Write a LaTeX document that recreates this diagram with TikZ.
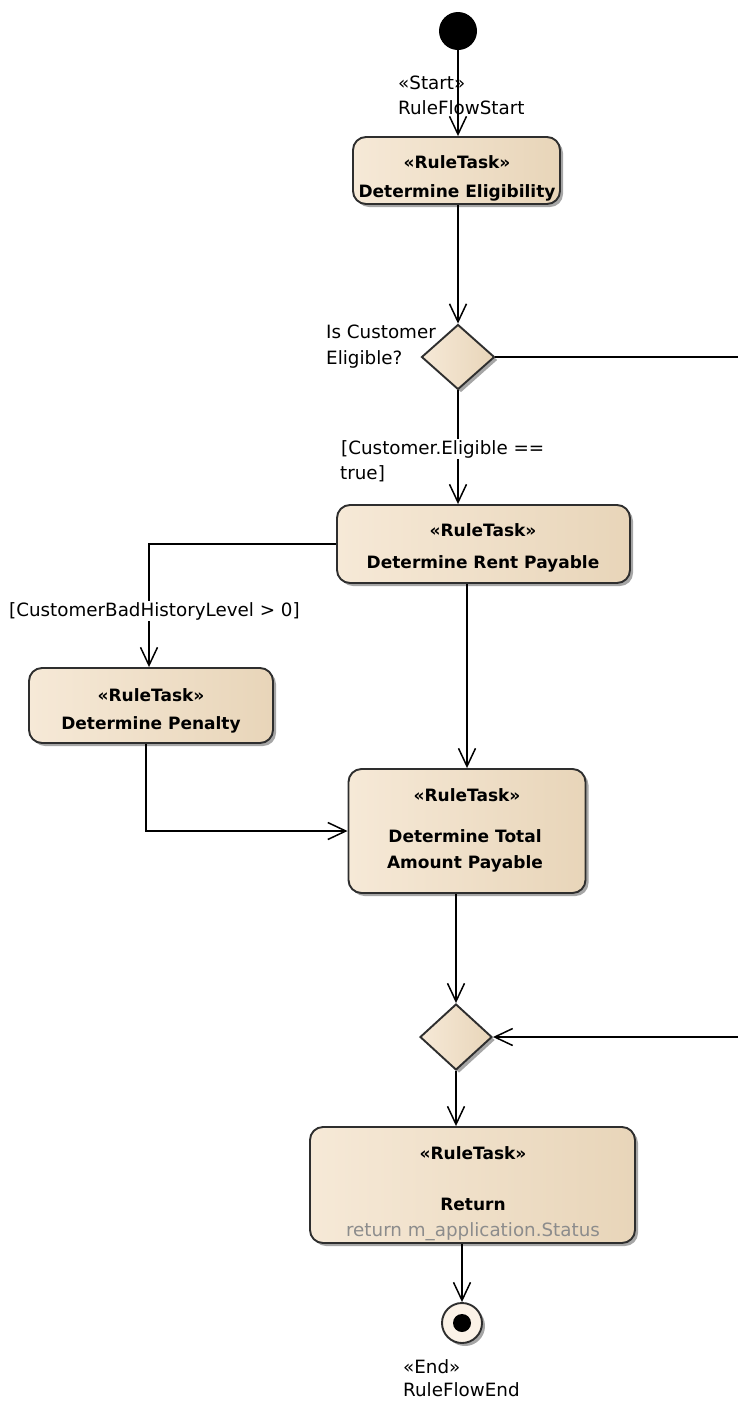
\documentclass[tikz,border=0pt]{standalone}
\usepackage{fontspec}
\setmainfont{DejaVu Sans}
\usetikzlibrary{arrows.meta,shapes.geometric,shadows}
\definecolor{cL}{HTML}{F6E9D7}
\definecolor{cM}{HTML}{FBF2E7}
\definecolor{cR}{HTML}{E8D5B9}
\definecolor{edge}{HTML}{2E2E2E}
\definecolor{gtext}{HTML}{8C8C8C}
\begin{document}
\begin{tikzpicture}[x=1pt,y=-1pt,
  shad/.style={drop shadow={shadow xshift=3pt,shadow yshift=-3pt,opacity=0.35,fill=black}},
  task/.style={draw=edge,line width=1.9pt,rounded corners=13pt,left color=cL,middle color=cM,right color=cR,shad,inner sep=0pt},
  decis/.style={diamond,draw=edge,line width=1.9pt,left color=cL,middle color=cM,right color=cR,shad,inner sep=0pt},
  bt/.style={font=\bfseries\fontsize{17}{20}\selectfont,anchor=base,inner sep=0pt},
  lbl/.style={font=\fontsize{18.3}{22}\selectfont,anchor=base west,inner sep=0pt},
  conn/.style={draw=black,line width=1.7pt,-{Straight Barb[length=18pt,width=17pt,line width=1.5pt]}}]
\useasboundingbox (0,0) rectangle (738,1401);
\clip (0,0) rectangle (738,1401);
\fill[white] (0,0) rectangle (738,1401);

% nodes
\node[circle,fill=black,minimum size=38pt,inner sep=0pt] (start) at (458,31) {};
\node[task,minimum width=207pt,minimum height=67pt] (b1) at (456.5,170.5) {};
\node[decis,minimum width=73pt,minimum height=65pt] (d1) at (458,357) {};
\node[task,minimum width=293pt,minimum height=78pt] (b2) at (483.5,544) {};
\node[task,minimum width=244pt,minimum height=75pt] (b3) at (151,705.5) {};
\node[task,minimum width=237pt,minimum height=124pt] (b4) at (467,831) {};
\node[decis,minimum width=72pt,minimum height=66pt] (d2) at (456,1037) {};
\node[task,minimum width=325pt,minimum height=116pt] (b5) at (472.5,1185) {};
\node[circle,draw=edge,line width=1.9pt,fill=cM,minimum size=40pt,inner sep=0pt,shad] (endo) at (462,1323) {};
\node[circle,fill=black,minimum size=18pt,inner sep=0pt] (endi) at (endo.center) {};

% box texts
\node[bt] (b1s) at (457,168) {«RuleTask»};
\node[bt] (b1t) at (457,197) {Determine Eligibility};
\node[bt] (b2s) at (483,536) {«RuleTask»};
\node[bt] (b2t) at (483,568) {Determine Rent Payable};
\node[bt] (b3s) at (151,701) {«RuleTask»};
\node[bt] (b3t) at (151,729) {Determine Penalty};
\node[bt] (b4s) at (467,801) {«RuleTask»};
\node[bt] (b4t) at (465,842) {Determine Total};
\node[bt] (b4u) at (465,868) {Amount Payable};
\node[bt] (b5s) at (473,1159) {«RuleTask»};
\node[bt] (b5t) at (473,1210) {Return};
\node[font=\fontsize{18.3}{22}\selectfont,anchor=base,inner sep=0pt,text=gtext] (b5c) at (473,1236) {return m\_application.Status};

% connectors
\draw[conn] (start) -- (start |- b1.north);
\draw[conn] (b1.south -| d1.north) -- (d1.north);
\draw[conn] (d1.south) -- (d1.south |- b2.north);
\draw[conn] (b2.west) -| ([xshift=-2pt]b3.north);
\draw[conn] (b4.north |- b2.south) -- (b4.north);
\draw[conn] ([xshift=-5pt]b3.south) |- (b4.west);
\draw[conn] (d2.north |- b4.south) -- (d2.north);
\draw[conn] (d2.south) -- (d2.south |- b5.north);
\draw[conn] (endo.north |- b5.south) -- (endo.north);
\draw[conn] (d1.east) -- ++(270,0) |- (d2.east);

% labels
\node[lbl] (ls1) at (398,89) {«Start»};
\node[lbl] (ls2) at (398,114) {RuleFlowStart};
\node[lbl] (lq1) at (326,338) {Is Customer};
\node[lbl] (lq2) at (326,364) {Eligible?};
\node[lbl,fill=white,inner sep=1pt] (lg1) at (340,454) {[Customer.Eligible ==};
\node[lbl] (lg2) at (340,479) {true]};
\node[lbl,fill=white,inner sep=1pt] (lg3) at (8,616) {[CustomerBadHistoryLevel > 0]};
\node[lbl] (le1) at (403,1373) {«End»};
\node[lbl] (le2) at (403,1396) {RuleFlowEnd};
\end{tikzpicture}
\end{document}
